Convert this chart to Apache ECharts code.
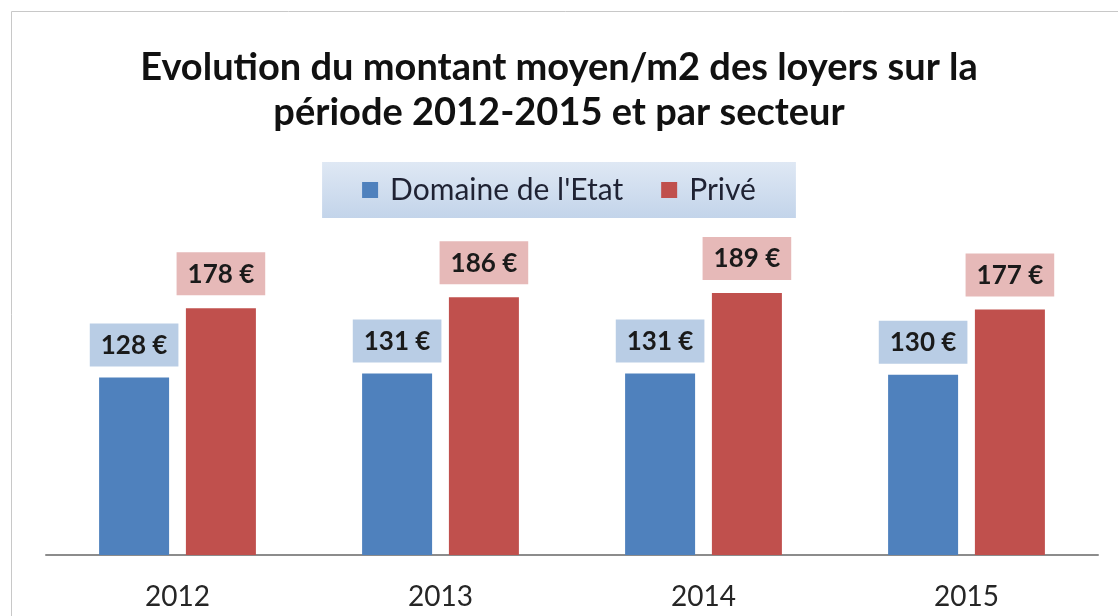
<!DOCTYPE html>
<html>
<head>
<meta charset="utf-8">
<script src="https://cdn.jsdelivr.net/npm/echarts@6/dist/echarts.min.js"></script>
<style>
  html, body { margin: 0; padding: 0; background: #ffffff; }
  #chart { width: 1118px; height: 616px; }
</style>
</head>
<body>
<div id="chart"></div>
<script>
const years = ["2012", "2013", "2014", "2015"];
const etatValues = [128, 131, 131, 130];
const priveValues = [178, 186, 189, 177];
const seriesNames = ["Domaine de l'Etat", "Privé"];

const chart = echarts.init(document.getElementById("chart"));

function labelStyle(bg, dist) {
  return {
    show: true,
    position: "top",
    distance: dist,
    formatter: "{c} €",
    fontFamily: "Lato",
    fontWeight: "bold",
    fontSize: 26,
    color: "#1a1a1a",
    backgroundColor: bg,
    padding: [9, 11, 8, 11]
  };
}

const options = {
  animation: false,
  backgroundColor: "#ffffff",
  graphic: [
    {
      type: "rect",
      shape: { x: 11.5, y: 11.5, width: 1200, height: 700 },
      style: { fill: "none", stroke: "#c8c8c8", lineWidth: 1 },
      silent: true
    }
  ],
  title: {
    text: "Evolution du montant moyen/m2 des loyers sur la\npériode 2012-2015 et par secteur",
    left: "center",
    top: 40,
    textStyle: {
      fontFamily: "Lato",
      fontWeight: "bold",
      fontSize: 38,
      lineHeight: 45,
      color: "#111111"
    }
  },
  legend: {
    data: seriesNames,
    top: 162,
    left: "center",
    icon: "rect",
    itemWidth: 16,
    itemHeight: 16,
    itemGap: 38,
    padding: [13, 40, 13, 40],
    backgroundColor: new echarts.graphic.LinearGradient(0, 0, 0, 1, [
      { offset: 0, color: "#dfe8f4" },
      { offset: 1, color: "#c3d4ea" }
    ]),
    textStyle: {
      fontFamily: "Lato",
      fontSize: 30,
      color: "#1f2233",
      padding: [0, 0, 0, 7]
    }
  },
  grid: {
    left: 46,
    right: 20,
    top: 250,
    bottom: 61
  },
  xAxis: {
    type: "category",
    data: years,
    axisTick: { show: false },
    axisLine: { lineStyle: { color: "#8c8c8c", width: 2 } },
    axisLabel: {
      margin: 28,
      fontFamily: "Lato",
      fontSize: 28,
      color: "#262626"
    }
  },
  yAxis: {
    type: "value",
    min: 0,
    max: 220,
    show: false,
    splitLine: { show: false }
  },
  series: [
    {
      name: seriesNames[0],
      type: "bar",
      data: etatValues,
      barWidth: 70,
      barGap: "24%",
      itemStyle: { color: "#4f81bd" },
      label: labelStyle("#b9cde5", 11)
    },
    {
      name: seriesNames[1],
      type: "bar",
      data: priveValues,
      barWidth: 70,
      itemStyle: { color: "#c0504d" },
      label: labelStyle("#e6b9b8", 13)
    }
  ]
};

chart.setOption(options);
</script>
</body>
</html>
